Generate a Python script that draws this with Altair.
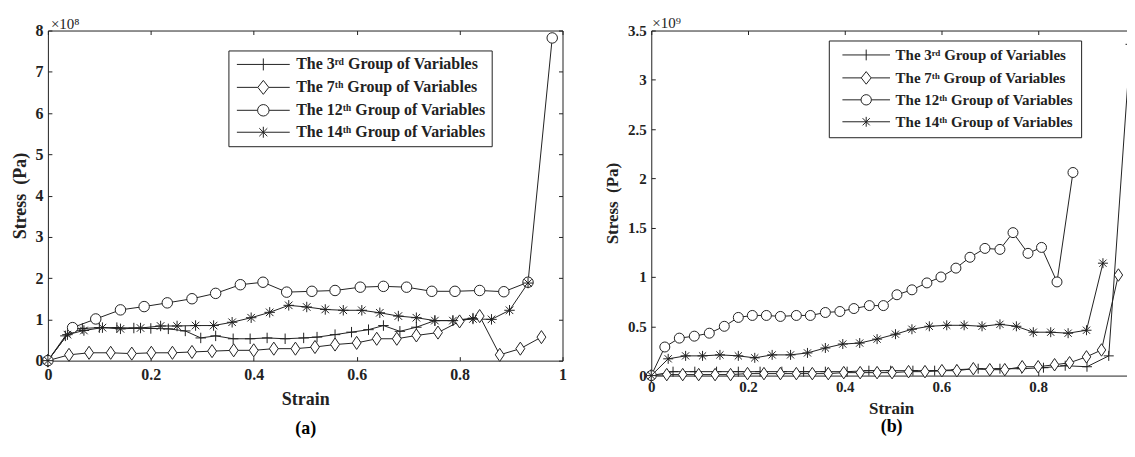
import altair as alt
import pandas as pd

INK = "#222222"
FONT = "Liberation Serif"

SERIES = ["The 3ʳᵈ Group of Variables", "The 7ᵗʰ Group of Variables",
          "The 12ᵗʰ Group of Variables", "The 14ᵗʰ Group of Variables"]

# ---------------- panel (a): stress in units of 1e8 Pa ----------------
a3_x = [0, 0.034, 0.067, 0.100, 0.134, 0.167, 0.200, 0.234, 0.267, 0.297, 0.326, 0.360, 0.393,
        0.426, 0.461, 0.497, 0.523, 0.558, 0.590, 0.623, 0.652, 0.684, 0.716, 0.752, 0.787, 0.826]
a3_y = [0, 0.60, 0.78, 0.80, 0.80, 0.79, 0.78, 0.77, 0.72, 0.55, 0.60, 0.53, 0.53,
        0.55, 0.53, 0.55, 0.57, 0.63, 0.69, 0.75, 0.85, 0.71, 0.81, 0.97, 0.97, 1.03]
a7_x = [0, 0.041, 0.080, 0.122, 0.163, 0.201, 0.242, 0.280, 0.319, 0.361, 0.400, 0.439, 0.481,
        0.519, 0.558, 0.600, 0.639, 0.678, 0.716, 0.758, 0.800, 0.839, 0.878, 0.918, 0.959]
a7_y = [0, 0.14, 0.19, 0.19, 0.17, 0.19, 0.19, 0.21, 0.23, 0.25, 0.25, 0.29, 0.29,
        0.33, 0.39, 0.43, 0.53, 0.53, 0.61, 0.68, 0.95, 1.08, 0.14, 0.29, 0.57]
a12_x = [0, 0.048, 0.093, 0.141, 0.187, 0.232, 0.280, 0.326, 0.374, 0.418, 0.464, 0.513, 0.558,
         0.607, 0.652, 0.697, 0.746, 0.791, 0.839, 0.886, 0.933, 0.980]
a12_y = [0, 0.80, 1.01, 1.23, 1.31, 1.40, 1.50, 1.63, 1.84, 1.90, 1.66, 1.68, 1.70,
         1.78, 1.80, 1.78, 1.68, 1.68, 1.70, 1.67, 1.90, 7.82]
a14_x = [0, 0.038, 0.070, 0.106, 0.141, 0.180, 0.219, 0.251, 0.287, 0.322, 0.358, 0.395, 0.431, 0.468,
         0.503, 0.539, 0.574, 0.610, 0.645, 0.681, 0.716, 0.752, 0.787, 0.826, 0.862, 0.897, 0.933]
a14_y = [0, 0.63, 0.73, 0.80, 0.77, 0.79, 0.84, 0.84, 0.85, 0.85, 0.93, 1.04, 1.17, 1.34,
         1.30, 1.24, 1.22, 1.22, 1.16, 1.08, 1.04, 0.97, 0.97, 1.01, 1.00, 1.22, 1.88]

# ---------------- panel (b): stress in units of 1e9 Pa ----------------
b3_x = [0, 0.045, 0.090, 0.135, 0.180, 0.225, 0.270, 0.315, 0.360, 0.405, 0.450, 0.495,
        0.541, 0.586, 0.631, 0.676, 0.721, 0.766, 0.811, 0.856, 0.901, 0.946, 0.991]
b3_y = [0, 0.04, 0.04, 0.04, 0.04, 0.04, 0.04, 0.04, 0.04, 0.04, 0.05, 0.05,
        0.05, 0.05, 0.06, 0.07, 0.07, 0.07, 0.08, 0.10, 0.09, 0.20, 3.36]
b7_x = [0, 0.032, 0.065, 0.098, 0.132, 0.164, 0.199, 0.233, 0.267, 0.300, 0.333, 0.366, 0.398, 0.432,
        0.467, 0.498, 0.532, 0.566, 0.601, 0.632, 0.666, 0.700, 0.731, 0.767, 0.800, 0.834, 0.865,
        0.900, 0.931, 0.966]
b7_y = [0, 0.01, 0.01, 0.01, 0.01, 0.01, 0.02, 0.02, 0.02, 0.02, 0.02, 0.02, 0.03, 0.03,
        0.03, 0.03, 0.04, 0.04, 0.05, 0.05, 0.07, 0.06, 0.06, 0.09, 0.09, 0.11, 0.13,
        0.19, 0.26, 1.02]
b12_x = [0, 0.028, 0.058, 0.089, 0.120, 0.151, 0.180, 0.209, 0.238, 0.267, 0.300, 0.329, 0.360, 0.390,
         0.419, 0.451, 0.480, 0.508, 0.539, 0.570, 0.599, 0.630, 0.659, 0.690, 0.721, 0.748, 0.779,
         0.807, 0.839, 0.872]
b12_y = [0, 0.29, 0.38, 0.40, 0.43, 0.50, 0.59, 0.61, 0.61, 0.60, 0.61, 0.61, 0.64, 0.65,
         0.68, 0.71, 0.71, 0.82, 0.87, 0.94, 1.00, 1.09, 1.20, 1.29, 1.28, 1.45, 1.24,
         1.30, 0.95, 2.06]
b14_x = [0, 0.035, 0.071, 0.106, 0.142, 0.180, 0.214, 0.250, 0.288, 0.323, 0.360, 0.396, 0.431, 0.467,
         0.505, 0.539, 0.575, 0.611, 0.647, 0.684, 0.721, 0.755, 0.790, 0.826, 0.862, 0.900, 0.934]
b14_y = [0, 0.17, 0.20, 0.20, 0.21, 0.20, 0.18, 0.21, 0.21, 0.23, 0.28, 0.32, 0.33, 0.37,
         0.42, 0.47, 0.50, 0.51, 0.51, 0.50, 0.52, 0.50, 0.44, 0.44, 0.43, 0.46, 1.14]

a_x_ticks = [0, 0.2, 0.4, 0.6, 0.8, 1]
b_x_ticks = [0, 0.2, 0.4, 0.6, 0.8]
a_y_ticks = [0, 1, 2, 3, 4, 5, 6, 7, 8]
b_y_ticks = [0, 0.5, 1, 1.5, 2, 2.5, 3, 3.5]

# marker glyphs (unit box paths)
PLUS = "M-1,0H1M0,-1V1"
DIAMOND = "M0,-1.25L0.85,0L0,1.25L-0.85,0Z"
CIRCLE = "circle"
STAR = "M-1,0H1M0,-1V1M-0.72,-0.72L0.72,0.72M-0.72,0.72L0.72,-0.72"
MARKERS = [(PLUS, False), (DIAMOND, True), (CIRCLE, True), (STAR, False)]
LEG_SHAPES = [
    "M-5.3,0H5.3M0,-1.2V1.2",
    "M-5.3,0H-1.1M1.1,0H5.3M0,-1.4L1.1,0L0,1.4L-1.1,0Z",
    "M-5.3,0H-1.15M1.15,0H5.3M1.15,0A1.15,1.15 0 1,1 -1.15,0A1.15,1.15 0 1,1 1.15,0Z",
    "M-5.3,0H5.3M0,-1.1V1.1M-0.8,-0.8L0.8,0.8M-0.8,0.8L0.8,-0.8",
]


def frame(xs_list, ys_list):
    rows = []
    for name, xs, ys in zip(SERIES, xs_list, ys_list):
        for xv, yv in zip(xs, ys):
            rows.append({"x": xv, "y": yv, "series": name})
    return pd.DataFrame(rows)


def panel(df, xdom, xticks, yticks, ydom, w, h, fs_tick, fs_title, fs_leg, leg_x, leg_y, leg_pad,
          sym_size, sym_off, lab_off, exp_text, tag, tag_pad, t_dx, t_off, y_tpad, x_tpad, x_lpad,
          mk_size):
    TL = 4
    xs = alt.Scale(domain=xdom, nice=False, zero=False)
    ys = alt.Scale(domain=ydom, nice=False, zero=False)
    lab = dict(labelFont=FONT, labelFontSize=fs_tick, labelFontWeight="bold", labelColor=INK,
               labelOverlap=False, labelFlush=False, format="~g")
    ttl = dict(titleFont=FONT, titleFontSize=fs_title, titleFontWeight="bold", titleColor=INK)
    base = alt.Chart(df)

    line = base.mark_line(color=INK, strokeWidth=1).encode(
        x=alt.X("x:Q", scale=xs, axis=alt.Axis(orient="bottom", values=xticks, ticks=False, domain=False,
                                                grid=False, labelPadding=x_lpad, title="Strain",
                                                titlePadding=x_tpad, **lab, **ttl)),
        y=alt.Y("y:Q", scale=ys, axis=alt.Axis(orient="left", values=yticks, ticks=False, domain=False,
                                                grid=False, labelPadding=5, title="Stress\u2002(Pa)",
                                                titlePadding=y_tpad, **lab, **ttl)),
        detail="series:N",
    )
    layers = [line]
    for name, (shape, filled) in zip(SERIES, MARKERS):
        kw = dict(shape=shape, size=mk_size, stroke=INK, strokeWidth=1, opacity=1)
        if filled:
            kw.update(filled=True, fill="white")
        else:
            kw.update(filled=False)
        layers.append(
            base.transform_filter(alt.datum.series == name).mark_point(**kw).encode(
                x=alt.X("x:Q", scale=xs, axis=None), y=alt.Y("y:Q", scale=ys, axis=None))
        )
    empty = base.transform_filter("false")
    legend_layer = empty.mark_point(filled=False, stroke=INK, strokeWidth=1, opacity=1).encode(
        x=alt.X("x:Q", scale=xs, axis=None),
        y=alt.Y("y:Q", scale=ys, axis=None),
        shape=alt.Shape("series:N", scale=alt.Scale(domain=SERIES, range=LEG_SHAPES),
                        legend=alt.Legend(orient="none", legendX=leg_x, legendY=leg_y, title=None,
                                          strokeColor=INK, fillColor="white", padding=leg_pad,
                                          cornerRadius=0, symbolSize=sym_size, symbolStrokeWidth=1,
                                          symbolStrokeColor=INK, symbolOffset=sym_off,
                                          labelOffset=lab_off, labelFont=FONT, labelFontSize=fs_leg,
                                          labelFontWeight="bold", labelColor=INK, labelLimit=500,
                                          rowPadding=6)),
    )
    layers.append(legend_layer)
    tick_common = dict(labels=False, domain=False, grid=False, ticks=True, tickSize=TL, tickColor=INK,
                       tickWidth=1, offset=-TL)
    tick_bl = empty.mark_point(opacity=0).encode(
        x=alt.X("x:Q", scale=xs, axis=alt.Axis(orient="bottom", values=xticks, title=tag,
                                                titleFont=FONT, titleFontSize=18, titleFontWeight="bold",
                                                titleColor="#000", titlePadding=tag_pad, **tick_common)),
        y=alt.Y("y:Q", scale=ys, axis=alt.Axis(orient="left", values=yticks, title=None, **tick_common)),
    )
    tick_tr = empty.mark_point(opacity=0).encode(
        x=alt.X("x:Q", scale=xs, axis=alt.Axis(orient="top", values=xticks, title=None, **tick_common)),
        y=alt.Y("y:Q", scale=ys, axis=alt.Axis(orient="right", values=yticks, title=None, **tick_common)),
    )
    layers += [tick_bl, tick_tr]
    return alt.layer(*layers).resolve_axis(x="independent", y="independent").resolve_scale(
        shape="independent").properties(
        width=w, height=h,
        title=alt.TitleParams(text=exp_text, anchor="start", frame="group", dx=t_dx, offset=t_off,
                              font=FONT, fontSize=15, fontWeight="normal", color=INK),
    )


df_a = frame([a3_x, a7_x, a12_x, a14_x], [a3_y, a7_y, a12_y, a14_y])
df_b = frame([b3_x, b7_x, b12_x, b14_x], [b3_y, b7_y, b12_y, b14_y])

pa = panel(df_a, [0, 1], a_x_ticks, a_y_ticks, [0, 8], 516, 331, 16, 18, 16, 181, 20, 6, 100, 21, 25,
           "×10⁸", "(a)", 59, 3, -9, 5, 8, 6, 110)
pb = panel(df_b, [0, 0.992], b_x_ticks, b_y_ticks, [0, 3.5], 481, 346, 15, 17, 15, 178, 10, 7, 81, 23, 22,
           "×10⁹", "(b)", 42, 1, -7, 6, 6, 4, 100)

chart = alt.hconcat(pa, pb, spacing=35).resolve_scale(shape="independent").configure_view(
    stroke=INK, strokeWidth=1).properties(
    padding={"left": 3, "top": 6, "right": -12, "bottom": 0})

chart.save("out.html", embed_options={"renderer": "svg", "actions": False})
